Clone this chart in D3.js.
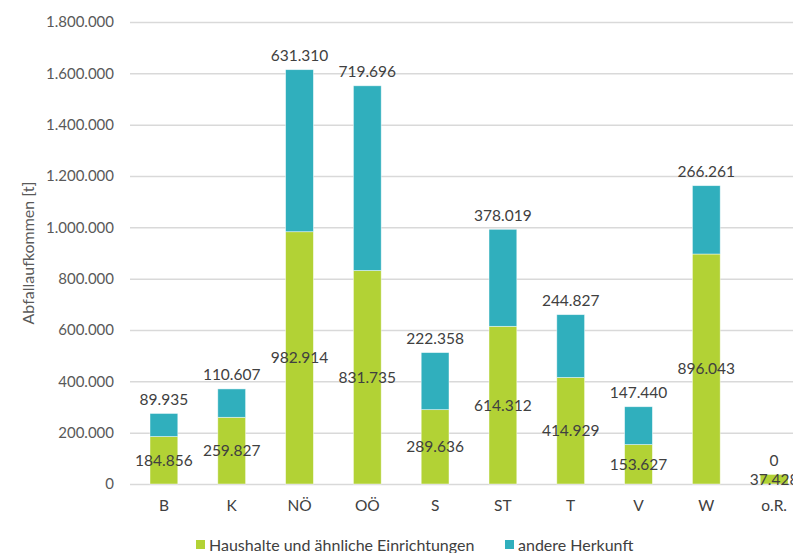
<!DOCTYPE html>
<html>
<head>
<meta charset="utf-8">
<script src="https://cdn.jsdelivr.net/npm/d3@7/dist/d3.min.js"></script>
<style>
  body { margin: 0; background: #fff; }
  svg text { font-family: Lato, "Liberation Sans", sans-serif; }
</style>
</head>
<body>
<svg id="chart" width="793" height="553"></svg>
<script>
const categories = ["B", "K", "NÖ", "OÖ", "S", "ST", "T", "V", "W", "o.R."];
const haushalte = [184856, 259827, 982914, 831735, 289636, 614312, 414929, 153627, 896043, 37428];
const andere = [89935, 110607, 631310, 719696, 222358, 378019, 244827, 147440, 266261, 0];
const yTicks = [0, 200000, 400000, 600000, 800000, 1000000, 1200000, 1400000, 1600000, 1800000];
const seriesNames = ["Haushalte und ähnliche Einrichtungen", "andere Herkunft"];
const colors = ["#b2d235", "#30afbd"];

const svg = d3.select("#chart");
const de = d3.formatLocale({ decimal: ",", thousands: ".", grouping: [3], currency: ["", " €"] });
const fmt = de.format(",d");

const plotLeft = 130, plotRight = 808, plotTop = 22, plotBottom = 484;

const x = d3.scaleBand().domain(categories).range([plotLeft, plotRight])
  .paddingInner(0.59).paddingOuter(0.295);
const y = d3.scaleLinear().domain([0, 1800000]).range([plotBottom, plotTop]);

// gridlines + y labels
const yAxis = svg.append("g")
  .attr("transform", `translate(${plotLeft},0)`)
  .call(d3.axisLeft(y).tickValues(yTicks).tickFormat(fmt).tickSize(-(plotRight - plotLeft)).tickPadding(16));
yAxis.select(".domain").remove();
yAxis.selectAll(".tick line").attr("stroke", "#d9d9d9").attr("stroke-width", 1.5);
yAxis.selectAll(".tick text").attr("fill", "#595959").attr("font-size", 15);

// x labels
const xAxis = svg.append("g")
  .attr("transform", `translate(0,${plotBottom})`)
  .call(d3.axisBottom(x).tickSize(0).tickPadding(16));
xAxis.select(".domain").remove();
xAxis.selectAll(".tick text").attr("fill", "#404040").attr("font-size", 15.5);

// stacked bars
const rows = categories.map((c, i) => ({ cat: c, h: haushalte[i], a: andere[i] }));
const stacked = d3.stack().keys(["h", "a"])(rows);

stacked.forEach((s, si) => {
  svg.append("g").selectAll("rect")
    .data(s)
    .join("rect")
    .attr("x", d => x(d.data.cat))
    .attr("width", x.bandwidth())
    .attr("y", d => y(d[1]))
    .attr("height", d => y(d[0]) - y(d[1]))
    .attr("fill", colors[si])
    .attr("stroke", "#ffffff")
    .attr("stroke-opacity", 0.6)
    .attr("stroke-width", 0.75);
});

// labels: haushalte centred in segment, andere above bar
svg.append("g").selectAll("text")
  .data(stacked[0])
  .join("text")
  .attr("x", d => x(d.data.cat) + x.bandwidth() / 2)
  .attr("y", d => (y(d[0]) + y(d[1])) / 2)
  .attr("dy", "0.35em")
  .attr("text-anchor", "middle")
  .attr("font-size", 15.5)
  .attr("fill", "#404040")
  .text(d => fmt(d.data.h));

svg.append("g").selectAll("text")
  .data(stacked[1])
  .join("text")
  .attr("x", d => x(d.data.cat) + x.bandwidth() / 2)
  .attr("y", d => y(d[1]) - 14)
  .attr("dy", "0.35em")
  .attr("text-anchor", "middle")
  .attr("font-size", 15.5)
  .attr("fill", "#404040")
  .text(d => fmt(d.data.a));

// y axis title
svg.append("text")
  .attr("transform", `translate(34,${(plotTop + plotBottom) / 2}) rotate(-90)`)
  .attr("text-anchor", "middle")
  .attr("font-size", 16)
  .attr("fill", "#595959")
  .text("Abfallaufkommen [t]");

// legend
const legendX = [196, 505];
const legend = svg.append("g").selectAll("g")
  .data(seriesNames)
  .join("g")
  .attr("transform", (d, i) => `translate(${legendX[i]},540)`);
legend.append("rect").attr("width", 9).attr("height", 9).attr("fill", (d, i) => colors[i]);
legend.append("text")
  .attr("x", 13).attr("y", 5).attr("dy", "0.35em")
  .attr("font-size", 16).attr("fill", "#404040")
  .text(d => d);
</script>
</body>
</html>
